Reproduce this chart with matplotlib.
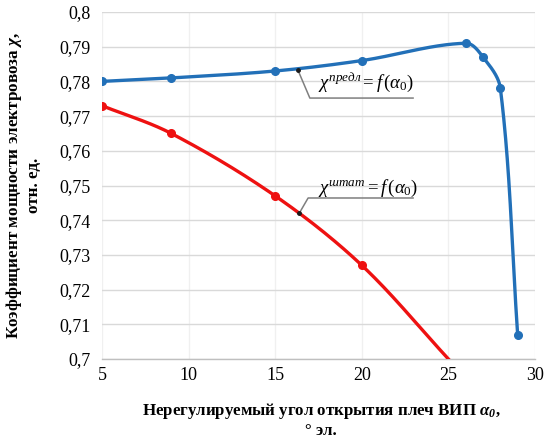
import numpy as np
import matplotlib
matplotlib.use("Agg")
import matplotlib.pyplot as plt

plt.rcParams['font.family'] = ['Liberation Serif', 'DejaVu Serif']
plt.rcParams['mathtext.fontset'] = 'custom'
plt.rcParams['mathtext.rm'] = 'Liberation Serif'
plt.rcParams['mathtext.it'] = 'Liberation Serif:italic'
plt.rcParams['mathtext.bf'] = 'Liberation Serif:bold:italic'

# data
alpha_pred = [5, 9, 15, 20, 26, 27, 28, 29]
chi_pred = [0.780, 0.781, 0.783, 0.786, 0.791, 0.787, 0.778, 0.707]
alpha_stat = [5, 9, 15, 20, 25]
chi_stat = [0.773, 0.765, 0.747, 0.727, 0.700]
stat_marker_count = 4

x_ticks = [5, 10, 15, 20, 25, 30]
y_ticks = [0.70, 0.71, 0.72, 0.73, 0.74, 0.75, 0.76, 0.77, 0.78, 0.79, 0.80]
y_tick_labels = ['0,7', '0,71', '0,72', '0,73', '0,74', '0,75', '0,76', '0,77', '0,78', '0,79', '0,8']

X0, X1, Y0, Y1 = 5, 30, 0.70, 0.80
AX_W_PX, AX_H_PX = 433.0, 347.0


def smooth(xs, ys, n=50):
    """Smoothed Bezier curve through the points, built in screen proportions."""
    sx, sy = AX_W_PX / (X1 - X0), AX_H_PX / (Y1 - Y0)
    P = np.column_stack([np.asarray(xs, float) * sx, np.asarray(ys, float) * sy])
    k = len(P)
    d = np.zeros_like(P)
    for i in range(k):
        a = P[max(i - 1, 0)]
        b = P[min(i + 1, k - 1)]
        v = b - a
        d[i] = v / np.linalg.norm(v)
    out = []
    t = np.linspace(0, 1, n)[:, None]
    for i in range(k - 1):
        L = np.linalg.norm(P[i + 1] - P[i]) / 3.0
        c1 = P[i] + d[i] * L
        c2 = P[i + 1] - d[i + 1] * L
        seg = (1 - t) ** 3 * P[i] + 3 * (1 - t) ** 2 * t * c1 + 3 * (1 - t) * t ** 2 * c2 + t ** 3 * P[i + 1]
        out.append(seg if i == 0 else seg[1:])
    out = np.vstack(out)
    return out[:, 0] / sx, out[:, 1] / sy


fig = plt.figure(figsize=(5.49, 4.38), dpi=100)
ax = fig.add_axes([102 / 549, 1 - 359 / 438, AX_W_PX / 549, AX_H_PX / 438])

blue = '#2270b8'
red = '#ee1111'

bx, by = smooth(alpha_pred, chi_pred)
ax.plot(bx, by, color=blue, lw=2.4, solid_capstyle='round', zorder=3)
ax.plot(alpha_pred, chi_pred, 'o', color=blue, ms=5.5, zorder=4)

rx, ry = smooth(alpha_stat, chi_stat)
ax.plot(rx, ry, color=red, lw=2.4, zorder=3)
ax.plot(alpha_stat[:stat_marker_count], chi_stat[:stat_marker_count], 'o', color=red, ms=5.5, zorder=4)

ax.set_xlim(X0, X1)
ax.set_ylim(Y0, Y1)
ax.set_xticks(x_ticks)
ax.set_yticks(y_ticks)
ax.set_yticklabels(y_tick_labels)
ax.tick_params(length=0, labelsize=13, pad=6)
ax.tick_params(axis='y', pad=8)
for lab in ax.get_xticklabels() + ax.get_yticklabels():
    lab.set_family('Liberation Serif')
ax.grid(axis='y', color='#d9d9d9', lw=1.0)
ax.grid(axis='x', color='#f0f0f0', lw=1.0)
ax.set_axisbelow(True)
for s in ['top', 'left', 'right']:
    ax.spines[s].set_visible(False)
ax.spines['bottom'].set_color('#bfbfbf')
ax.spines['bottom'].set_linewidth(1.0)

# annotations (leader lines)
grey = '#7f7f7f'
ax.plot([16.3], [0.7834], 'o', color='#1a1a1a', ms=2.5, zorder=5)
ax.plot([16.3, 17.0, 22.96], [0.7834, 0.7752, 0.7752], color=grey, lw=1.1, zorder=2)
ax.text(17.5, 0.7781, r'$\chi^{предл} = f\,(\alpha_0)$', fontsize=13.5, ha='left', va='baseline')

ax.plot([16.4], [0.7421], 'o', color='#1a1a1a', ms=2.5, zorder=5)
ax.plot([16.4, 16.9, 22.96], [0.7421, 0.7464, 0.7464], color=grey, lw=1.1, zorder=2)
ax.text(17.5, 0.7478, r'$\chi^{штат} = f\,(\alpha_0)$', fontsize=13.5, ha='left', va='baseline')

fig.text(23 / 549, 1 - 185.5 / 438, 'Коэффициент мощности электровоза $\\mathbf{\\chi}$,\nотн. ед.',
         rotation=90, ha='center', va='center', fontsize=12.3, fontweight='bold', linespacing=1.2)
fig.text(0.585, 1 - 420 / 438, 'Нерегулируемый угол открытия плеч ВИП $\\mathbf{\\alpha_0}$,\n° эл.',
         ha='center', va='center', fontsize=12.2, fontweight='bold', linespacing=1.1)

fig.savefig('out.png', dpi=100)
